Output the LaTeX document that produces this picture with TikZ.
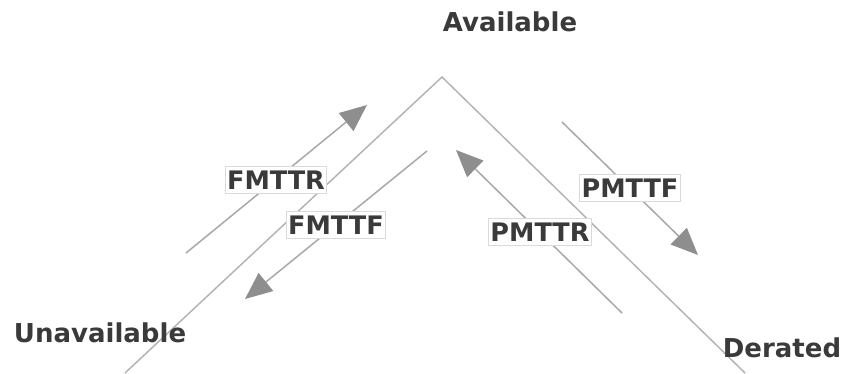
\documentclass[tikz,border=0pt]{standalone}
\usepackage{fontspec}
\setmainfont{DejaVu Sans}
\usetikzlibrary{arrows.meta}
\definecolor{vline}{HTML}{B4B4B4}
\definecolor{flow}{HTML}{A8A8A8}
\definecolor{head}{HTML}{8E8E8E}
\definecolor{ink}{HTML}{3A3A3A}
\definecolor{frame}{HTML}{DADADA}
\tikzset{
  state/.style={text=ink, font=\fontsize{26}{29}\selectfont\bfseries, inner sep=0pt},
  tag/.style={text=ink, font=\fontsize{25.5}{28}\selectfont\bfseries, fill=white, draw=frame,
    line width=1pt, inner xsep=2pt, inner ysep=4pt},
  vside/.style={draw=vline, line width=1.5pt},
  flowarrow/.style={draw=flow, line width=1.5pt,
    -{Triangle[length=27pt,width=23pt,color=head]}}
}
\begin{document}
\begin{tikzpicture}[x=1pt,y=-1pt]
\useasboundingbox (0,0) rectangle (844,373);
% the V of states
\coordinate (top) at (442,77);
\coordinate (lft) at (125,373);
\coordinate (rgt) at (745,373);
\draw[vside] (lft) -- (top) -- (rgt);
% transition arrows
\coordinate (a1) at (186,253); \coordinate (b1) at (367,105);
\coordinate (a2) at (427,151); \coordinate (b2) at (245,299);
\coordinate (a3) at (622,313); \coordinate (b3) at (456,150);
\coordinate (a4) at (562,122); \coordinate (b4) at (698,255);
\draw[flowarrow] (a1) -- (b1);
\draw[flowarrow] (a2) -- (b2);
\draw[flowarrow] (a3) -- (b3);
\draw[flowarrow] (a4) -- (b4);
% transition labels
\node[tag] (fmttr) at (276,180) {FMTTR};
\node[tag] (fmttf) at (336,225) {FMTTF};
\node[tag] (pmttr) at (540,232) {PMTTR};
\node[tag] (pmttf) at (630,188) {PMTTF};
% state names
\node[state] (avail) at (510,22) {Available};
\node[state] (unavail) at (100,333) {Unavailable};
\node[state] (derated) at (782,348) {Derated};
\end{tikzpicture}
\end{document}
